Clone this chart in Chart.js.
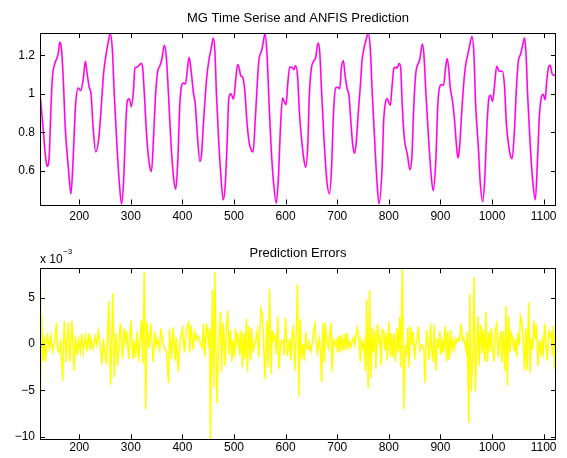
<!DOCTYPE html>
<html>
<head>
<meta charset="utf-8">
<script src="https://cdn.jsdelivr.net/npm/chart.js"></script>
<style>
body { margin: 0; background: #fff; width: 567px; height: 458px; position: relative; overflow: hidden; }
canvas { position: absolute; left: 0; }
#top { top: 0; }
#bottom { top: 230px; }
</style>
</head>
<body>
<canvas id="top" width="567" height="230"></canvas>
<canvas id="bottom" width="567" height="228"></canvas>
<script>
// MG time series (key points)
var mgTime = [124,130,135,138,142,145,148,153,157,160,162,165,169,173,179,184,188,193,198,203,208,212,214,219,223,227,232,238,243,247,252,256,260,264,268,273,278,282,286,290,293,297,301,305,308,312,316,320,323,327,331,336,340,344,348,352,356,360,365,369,373,378,383,387,391,395,399,402,406,410,413,417,421,425,428,434,437,441,447,451,456,460,
  463,466,470,474,479,483,487,490,494,499,503,507,510,513,517,521,525,529,533,537,541,545,548,554,557,560,564,568,572,577,582,586,590,594,597,601,604,608,612,616,619,623,627,632,636,639,643,646,650,654,658,663,666,670,675,680,685,689,693,697,701,705,708,712,715,719,723,726,730,734,737,741,745,748,752,756,760,764,768,773,777,781,
  787,790,794,797,800,803,806,810,813,816,820,823,826,830,836,841,845,848,852,856,860,865,868,872,877,882,886,891,895,899,903,906,910,913,916,919,923,927,931,934,937,941,945,949,953,957,961,965,968,974,977,982,986,990,994,997,1001,1005,1009,1013,1016,1020,1024,1028,1033,1036,1039,1043,1047,1051,1055,1059,1063,1066,1069,1074,1079,1084,1088,1092,1096,1099,1103,1106,1110,1113,1116,1119,1124];
var mgValues = [1.0,0.823,0.667,0.624,0.685,0.91,1.082,1.16,1.186,1.22,1.267,1.247,1.082,0.823,0.616,0.482,0.65,0.944,1.03,1.017,1.08,1.169,1.134,1.039,0.996,0.823,0.699,0.771,0.944,1.1,1.203,1.264,1.314,1.238,0.996,0.737,0.53,0.427,0.547,0.823,0.961,0.975,0.934,1.013,1.134,1.138,1.148,1.158,1.134,0.961,0.771,0.633,0.598,0.771,0.996,1.117,1.143,1.178,1.252,1.186,0.996,0.737,0.564,0.505,0.65,0.944,1.048,1.056,1.051,1.134,1.19,1.117,1.013,0.944,0.823,0.65,0.685,0.858,1.082,1.169,1.238,1.29,
  1.22,0.996,0.771,0.598,0.451,0.529,0.771,0.979,1.0,0.973,1.065,1.152,1.134,1.094,1.086,1.013,0.858,0.754,0.711,0.699,0.858,1.048,1.169,1.229,1.273,1.312,1.203,0.944,0.719,0.529,0.434,0.564,0.823,0.979,0.961,0.944,1.048,1.139,1.138,1.126,1.146,1.1,0.892,0.737,0.65,0.619,0.737,0.996,1.134,1.169,1.186,1.264,1.221,0.996,0.737,0.547,0.482,0.616,0.91,1.031,1.034,1.027,1.134,1.172,1.1,1.031,0.987,0.875,0.737,0.692,0.754,0.91,1.048,1.169,1.238,1.281,1.314,1.238,0.996,0.737,0.547,0.429,
  0.616,0.858,0.961,0.975,0.953,0.941,1.031,1.134,1.138,1.134,1.157,1.134,0.944,0.771,0.685,0.607,0.685,0.91,1.1,1.152,1.178,1.259,1.203,0.996,0.771,0.581,0.498,0.65,0.944,1.039,1.048,1.044,1.134,1.183,1.134,1.031,0.97,0.875,0.737,0.667,0.719,0.892,1.048,1.152,1.203,1.255,1.297,1.203,0.961,0.702,0.547,0.441,0.564,0.823,0.979,0.993,0.961,1.048,1.143,1.12,1.117,1.117,1.048,0.84,0.719,0.676,0.664,0.788,1.013,1.169,1.203,1.247,1.29,1.203,0.996,0.737,0.547,0.451,0.65,0.892,0.987,0.998,0.97,1.065,1.143,1.148,1.108,1.096,1.096];

// prediction errors, in units of 1e-3
var errTime = [124,125,127,130,132,135,138,142,145,148,152,156,158,161,164,168,171,175,179,182,186,190,193,196,199,202,205,208,212,215,218,221,223,227,231,234,237,240,244,247,250,253,257,261,265,268,271,275,278,280,284,287,290,292,296,300,304,306,309,312,315,318,321,323,326,329,331,335,339,343,347,349,352,356,358,362,366,369,373,375,379,382,386,388,392,396,400,404,408,412,414,417,421,424,427,430,434,438,441,443,447,449,451,453,
  454,458,461,463,467,470,474,476,479,483,485,488,490,493,496,498,501,503,506,508,511,514,516,519,521,524,526,529,532,534,537,541,545,548,552,555,557,560,564,566,569,572,574,577,579,582,585,587,590,592,595,597,600,603,605,608,610,613,615,618,621,623,626,628,631,634,636,639,641,644,646,649,652,654,657,659,662,665,667,670,672,675,677,680,683,685,688,690,693,695,698,701,703,706,708,711,714,716,719,721,724,726,729,732,734,737,739,742,745,747,750,752,755,757,760,763,765,768,770,773,775,778,781,783,
  785,787,790,792,795,797,800,803,805,808,810,813,816,818,821,823,826,829,832,834,837,839,842,845,847,850,852,855,857,860,863,865,868,870,873,876,878,881,883,886,888,891,894,896,899,901,904,906,909,912,914,917,919,922,925,927,930,932,935,937,940,943,945,948,950,952,955,957,960,963,965,968,970,973,975,978,981,983,986,988,991,994,996,999,1001,1004,1006,1009,1012,1014,1017,1019,1022,1025,1027,1030,1032,1035,1037,1040,1043,1045,1048,1050,1053,1055,1058,1061,1063,1066,1068,1071,1074,1076,1079,1081,1084,1086,1089,1092,1094,1097,1099,1102,1104,1107,1110,1112,1115,1117,1119,1121,1123];
var errValues = [6.0,-5.5,3.2,-1.9,0.8,-1.9,1.2,-0.4,0.9,-0.8,0.2,2.3,-0.6,-0.9,0.5,-4.0,2.5,-2.0,2.3,-1.9,2.5,-2.9,0.9,-1.2,0.4,-0.8,1.1,-0.9,0.8,-0.8,1.2,-0.6,0.6,-0.5,0.8,-0.1,1.4,0.3,-2.2,0.5,-1.2,-2.2,4.6,-4.4,5.5,-3.6,1.2,-2.3,1.2,2.2,-1.6,1.7,0.2,1.4,-1.6,2.5,-1.6,0.4,-1.4,1.3,-1.9,0.4,2.6,-2.1,7.8,-7.0,2.4,-0.4,2.2,-1.9,1.3,-0.2,0.5,-0.6,1.7,0.2,-0.6,-0.8,-4.2,1.6,-1.6,1.8,-1.8,0.7,-3.0,0.6,1.7,-0.9,1.7,2.3,-0.9,2.0,-0.6,1.3,0.5,0.9,0.2,-0.4,2.2,-1.4,2.2,1.3,-0.4,1.7,
  -10.3,5.8,-4.7,7.8,-6.4,-0.5,3.5,-3.0,2.3,-2.4,1.8,3.6,-1.1,1.5,-1.9,0.4,-1.4,1.7,0.1,1.2,-1.2,1.5,-2.5,1.2,-1.6,2.7,-3.0,1.9,-1.8,1.7,-0.7,0.0,1.4,-1.4,3.8,3.2,0.9,-3.8,2.5,-2.5,6.0,-3.2,1.5,0.5,0.9,-1.1,3.0,-2.7,-0.4,0.4,0.4,-1.2,2.8,-1.3,-0.6,0.6,-1.8,1.3,1.7,-2.9,2.0,6.4,-5.7,2.7,-1.6,0.0,-1.8,1.3,-0.4,-0.6,0.2,-0.8,0.2,1.4,2.2,0.2,-0.9,0.6,-0.4,-4.1,2.3,-1.9,2.3,0.2,-0.5,0.7,2.3,-3.0,0.7,-0.1,0.4,-0.9,0.9,-0.9,1.0,-0.7,1.1,-0.6,1.2,-0.4,0.3,-0.4,0.2,0.7,-0.1,1.2,1.7,0.3,-1.9,0.4,-0.4,0.2,-2.9,4.8,-4.8,5.8,-3.7,1.8,-0.9,1.4,-2.7,2.2,0.2,0.6,
  -2.3,1.6,1.4,-0.7,1.2,-1.8,2.4,-1.4,1.2,-1.4,1.2,-1.9,1.7,-0.9,2.9,-2.5,8.2,-7.0,-0.1,-1.4,1.8,-2.5,1.9,-0.1,1.3,-1.7,-0.1,0.6,1.9,-0.7,-0.1,-0.1,-0.6,-4.2,1.5,0.0,-1.7,2.2,-0.5,-1.9,2.1,-2.9,0.6,-0.5,1.4,-1.2,0.2,-0.9,1.9,-1.9,1.4,-1.7,1.5,-0.7,0.4,-0.5,0.6,0.2,0.6,0.4,2.2,0.4,0.7,-0.1,-0.8,1.3,-8.5,5.4,-5.1,-0.9,7.2,-5.1,-0.5,3.0,-2.3,2.1,-1.0,1.6,-1.9,3.5,-1.9,1.3,-0.8,1.7,-0.6,-1.9,1.4,2.2,-1.4,0.3,1.4,-2.0,1.4,-2.9,4.1,-4.5,3.0,-0.9,1.2,0.6,-0.8,0.6,-1.4,1.2,-0.1,3.0,2.2,-0.1,-2.9,1.7,-2.8,4.5,-3.1,0.6,-0.6,2.5,0.5,2.1,-2.4,0.4,-0.9,0.3,-1.4,2.2,0.6,-1.8,1.3,0.8,1.2,-1.2,2.0,-2.7,0.6];

var xTicks = [200,300,400,500,600,700,800,900,1000,1100];
var mgTicks = [0.6,0.8,1,1.2];
var errTicks = [-10,-5,0,5];

var FONT = '"Liberation Sans", Arial, Helvetica, sans-serif';

// matlab style box with ticks pointing inward, plus title text
var matlabBox = {
  id: 'matlabBox',
  afterDatasetsDraw: function(chart, args, opts) {
    var ctx = chart.ctx, a = chart.chartArea;
    var x = chart.scales.x, y = chart.scales.y;
    ctx.save();
    ctx.strokeStyle = '#000';
    ctx.lineWidth = 1;
    ctx.beginPath();
    x.ticks.forEach(function(t) {
      var px = Math.round(x.getPixelForValue(t.value)) + 0.5;
      ctx.moveTo(px, a.bottom); ctx.lineTo(px, a.bottom - 5);
      ctx.moveTo(px, a.top); ctx.lineTo(px, a.top + 5);
    });
    y.ticks.forEach(function(t) {
      var py = Math.round(y.getPixelForValue(t.value)) + 0.5;
      ctx.moveTo(a.left, py); ctx.lineTo(a.left + 5, py);
      ctx.moveTo(a.right, py); ctx.lineTo(a.right - 5, py);
    });
    ctx.stroke();
    ctx.strokeRect(Math.round(a.left) + 0.5, Math.round(a.top) + 0.5, Math.round(a.right - a.left) - 1, Math.round(a.bottom - a.top));
    ctx.fillStyle = '#000';
    ctx.font = '13px ' + FONT;
    ctx.textAlign = 'center';
    ctx.textBaseline = 'alphabetic';
    ctx.fillText(opts.text, (a.left + a.right) / 2, opts.baseline);
    if (opts.exponent) {
      ctx.textAlign = 'left';
      ctx.font = '12px ' + FONT;
      ctx.fillText('x 10', a.left, 33);
      var w = ctx.measureText('x 10').width;
      ctx.font = '8px ' + FONT;
      ctx.fillText('\u22123', a.left + w + 0.5, 24);
    }
    ctx.restore();
  }
};

function pts(xs, ys) {
  return xs.map(function(t, i) { return { x: t, y: ys[i] }; });
}

function minusFmt(v) {
  return v < 0 ? '\u2212' + Math.abs(v) : String(v);
}

function axisOpts(ticks, min, max, pad, fit, isX) {
  return {
    type: 'linear',
    min: min,
    max: max,
    grid: { display: false, drawTicks: false },
    border: { display: false },
    afterBuildTicks: function(s) { s.ticks = ticks.map(function(v) { return { value: v }; }); },
    afterFit: function(s) { if (isX) { s.height = fit; } else { s.width = fit; } },
    ticks: {
      padding: pad,
      color: '#000',
      autoSkip: false,
      maxRotation: 0,
      font: { family: FONT, size: 12 },
      callback: minusFmt
    }
  };
}

var ctxTop = document.getElementById('top').getContext('2d');
var topChart = new Chart(ctxTop, {
  type: 'line',
  data: {
    datasets: [{
      label: 'ANFIS output',
      data: pts(mgTime, mgValues),
      borderColor: '#ff00ff',
      borderWidth: 1.5,
      pointRadius: 0,
      cubicInterpolationMode: 'monotone',
      order: 0
    }, {
      label: 'MG series',
      data: pts(mgTime, mgValues),
      borderColor: 'rgba(255, 190, 120, 0.45)',
      borderWidth: 2.2,
      pointRadius: 0,
      cubicInterpolationMode: 'monotone',
      order: 1
    }]
  },
  options: {
    responsive: false,
    animation: false,
    layout: { padding: { left: 1, right: 11, top: 33, bottom: 0 } },
    plugins: {
      legend: { display: false },
      tooltip: { enabled: false },
      matlabBox: { text: 'MG Time Serise and ANFIS Prediction', baseline: 21.5 }
    },
    scales: {
      x: axisOpts(xTicks, 124, 1124, 4.5, 25.5, true),
      y: axisOpts(mgTicks, 0.4264, 1.3155, 5, 39, false)
    }
  },
  plugins: [matlabBox]
});

var ctxBottom = document.getElementById('bottom').getContext('2d');
var bottomChart = new Chart(ctxBottom, {
  type: 'line',
  data: {
    datasets: [{
      label: 'errors',
      data: pts(errTime, errValues),
      borderColor: '#ffff00',
      borderWidth: 1.5,
      pointRadius: 0,
      tension: 0
    }]
  },
  options: {
    responsive: false,
    animation: false,
    layout: { padding: { left: 1, right: 11, top: 38.3, bottom: 0 } },
    plugins: {
      legend: { display: false },
      tooltip: { enabled: false },
      matlabBox: { text: 'Prediction Errors', baseline: 26.5, exponent: true }
    },
    scales: {
      x: axisOpts(xTicks, 124, 1124, 1.5, 18.7, true),
      y: axisOpts(errTicks, -10.28, 8.17, 5, 39, false)
    }
  },
  plugins: [matlabBox]
});
</script>
</body>
</html>
